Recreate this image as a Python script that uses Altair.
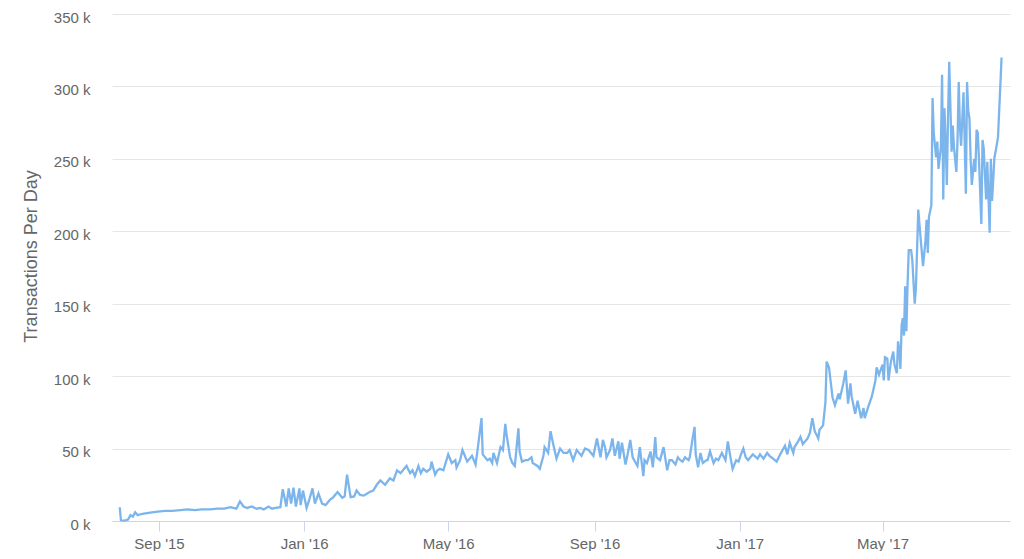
import altair as alt
import pandas as pd

# days since network launch (2015-07-30) and transactions per day (thousands)
day = [0, 1, 4, 7, 9, 11, 13, 15, 19, 23, 27, 32, 38, 44, 51, 57, 63, 69, 76, 82, 88, 93, 98,
       101, 104, 107, 111, 115, 118, 121, 125, 128, 131, 135, 137, 140, 142, 144, 146, 148, 151,
       152, 154, 157, 159, 162, 164, 167, 170, 173, 177, 179, 183, 187, 189, 191, 194, 197, 199,
       202, 205, 208, 210, 213, 216, 219, 223, 227, 230, 233, 236, 239, 241, 244, 246, 248, 251,
       253, 255, 258, 261, 262, 265, 267, 269, 272, 276, 279, 282, 283, 286, 288, 292, 296, 299,
       301, 304, 305, 309, 311, 313, 314, 317, 320, 322, 324, 325, 328, 330, 332, 335, 336, 338,
       341, 343, 346, 347, 351, 353, 356, 357, 360, 362, 364, 367, 370, 373, 376, 378, 381, 384,
       387, 388, 391, 394, 395, 398, 401, 404, 406, 408, 409, 412, 414, 416, 419, 420, 422, 425,
       427, 429, 431, 435, 437, 440, 441, 443, 446, 448, 450, 451, 454, 457, 460, 462, 464, 467,
       469, 471, 473, 475, 478, 479, 481, 483, 484, 486, 488, 490, 493, 494, 496, 499, 501, 503,
       506, 509, 511, 513, 515, 518, 520, 522, 524, 526, 528, 531, 532, 536, 538, 541, 544, 546,
       549, 552, 555, 557, 559, 561, 563, 566, 567, 570, 572, 574, 578, 580, 582, 584, 587, 588,
       591, 593, 594, 596, 599, 601, 604, 605, 608, 610, 612, 614, 615, 618, 620, 623, 625, 626,
       629, 632, 635, 636, 638, 641, 642, 643, 645, 646, 648, 650, 651, 653, 654, 655, 656, 657,
       658, 659, 660, 661, 662, 663, 665, 666, 668, 669, 671, 673, 675, 677, 678, 679, 680, 682,
       683, 684, 686, 687, 688, 690, 691, 692, 693, 694, 695, 696, 697, 699, 700, 701, 703, 704,
       705, 706, 707, 709, 710, 711, 712, 713, 714, 715, 716, 718, 719, 720, 721, 722, 724, 725,
       726, 728, 729, 731, 732, 733, 735, 736, 738, 741]

tx_k = [9.5, 0.5, 0.3, 1, 4, 3, 6, 4, 5, 5.5, 6, 6.5, 7, 7, 7.5, 8, 7.5, 8, 8, 8.5, 8.5, 9.5, 8.5,
        13.5, 10, 9, 10, 8.5, 9, 8, 10, 8.5, 9, 9.5, 22, 10, 22.5, 12, 23, 10, 22.5,
        11, 21, 9, 14, 22.5, 12, 19, 12, 11, 15, 16, 20, 16, 17, 32, 16.5, 17, 21,
        18, 17.5, 19, 20, 21, 25, 28, 25, 29.5, 28, 35, 33, 36, 38, 33, 35, 31, 38,
        33, 36, 34, 36, 41, 32, 35, 36, 35, 46, 40, 42, 37, 42, 49, 41, 45, 39,
        51, 71, 46, 42, 43, 40, 47, 40, 51, 49, 67, 60, 44, 40, 38, 64, 48, 41,
        42, 42, 44, 40, 38, 36, 45, 51, 47, 62, 54, 43, 50, 47, 47, 49, 42, 49,
        46, 45, 50, 49, 48, 45, 57, 44, 56, 50, 44, 49, 57, 45, 55, 43, 54, 39,
        47, 56, 44, 38, 51, 31, 42, 40, 48, 37, 58, 44, 42, 51, 35, 42, 42, 39,
        44, 42, 41, 44, 42, 44, 55, 65, 46, 37, 47, 40, 42, 42, 48, 40, 43, 42,
        47, 42, 55, 45, 36, 42, 41, 46, 50, 44, 42, 45, 46, 43, 46, 43, 47, 45,
        43, 41, 46, 49, 52, 46, 54, 47, 51, 55, 58, 53, 57, 61, 71, 62, 57, 63,
        66, 82, 110, 106, 85, 80, 88, 84, 95, 104, 81, 95, 86, 74, 83, 71, 78, 71,
        79, 86, 97, 106, 101, 108, 97, 113, 112, 97, 110, 117, 108, 102, 124, 118, 105, 135,
        140, 128, 162, 131, 163, 187, 187, 180, 150, 160, 215, 195, 176, 193, 208, 185, 210, 218,
        292, 268, 251, 262, 243, 258, 308, 222, 285, 262, 232, 278, 317, 255, 273, 258, 241, 263,
        303, 272, 259, 296, 262, 226, 303, 283, 278, 250, 232, 250, 241, 270, 268, 250, 205, 263,
        257, 222, 248, 199, 250, 221, 251, 255, 265, 320]

y_ticks = [0, 50000, 100000, 150000, 200000, 250000, 300000, 350000]
x_ticks = [
    alt.DateTime(year=2015, month=9, date=1),
    alt.DateTime(year=2016, month=1, date=1),
    alt.DateTime(year=2016, month=5, date=1),
    alt.DateTime(year=2016, month=9, date=1),
    alt.DateTime(year=2017, month=1, date=1),
    alt.DateTime(year=2017, month=5, date=1),
]

start = pd.Timestamp("2015-07-30")
df = pd.DataFrame({
    "date": [start + pd.Timedelta(days=d) for d in day],
    "tx": [v * 1000 for v in tx_k],
})

FONT = "Liberation Sans"
GREY = "#666666"

chart = alt.Chart(df).mark_line(color="#7cb5ec", strokeWidth=2.3).encode(
    x=alt.X(
        "date:T",
        scale=alt.Scale(domain=[alt.DateTime(year=2015, month=7, date=23, hours=12),
                                alt.DateTime(year=2017, month=8, date=16, hours=2)]),
        axis=alt.Axis(
            title=None, values=x_ticks, format="%b '%y", grid=False,
            domainColor="#ccd6eb", tickColor="#ccd6eb", tickSize=10,
            labelColor=GREY, labelFontSize=15, labelFont=FONT, labelPadding=5,
        ),
    ),
    y=alt.Y(
        "tx:Q",
        scale=alt.Scale(domain=[0, 350000], nice=False),
        axis=alt.Axis(
            title="Transactions Per Day", values=y_ticks,
            labelExpr="datum.value / 1000 + ' k'",
            domain=False, ticks=False, tickSize=0, gridColor="#e6e6e6",
            labelColor=GREY, labelFontSize=15, labelFont=FONT, labelPadding=22,
            labelOffset=3,
            titleColor=GREY, titleFontSize=18, titleFont=FONT, titleFontWeight="normal",
            titleX=-81, titleY=242, titleAngle=-90, titleAlign="center",
            titleBaseline="middle",
        ),
    ),
).properties(
    width=898, height=507,
    padding={"left": 104, "top": 6, "right": 6, "bottom": 30},
    autosize="none",
    background="white",
).configure_view(strokeWidth=0, stroke="transparent")

chart.save("out.html", embed_options={"renderer": "svg", "actions": False})
